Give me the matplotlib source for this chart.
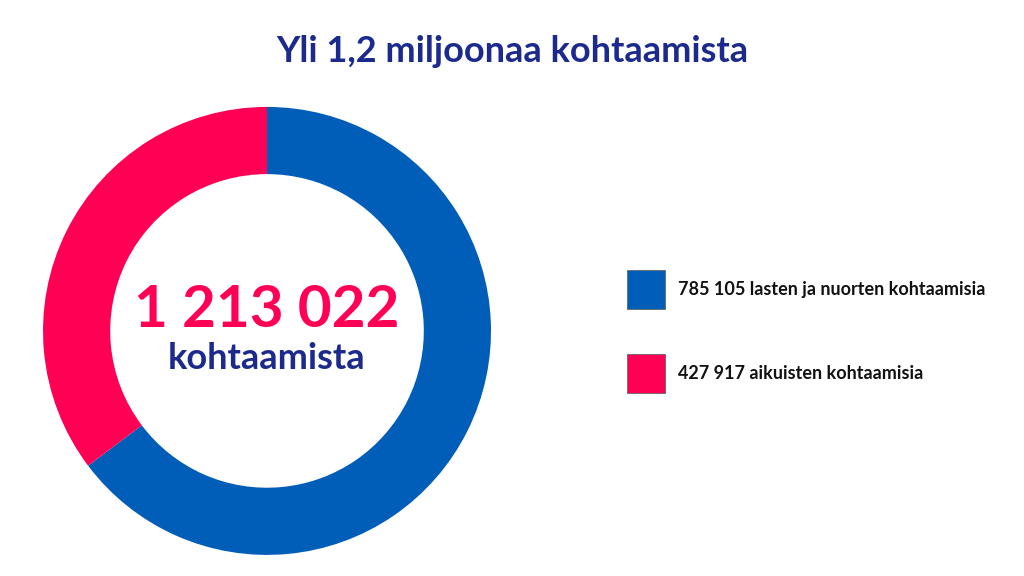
import matplotlib
matplotlib.use("Agg")
import matplotlib.pyplot as plt
from matplotlib.patches import Rectangle

labels = ["785 105 lasten ja nuorten kohtaamisia", "427 917 aikuisten kohtaamisia"]
values = [785105, 427917]
colors = ["#005EB8", "#FF0055"]
total_label = "1 213 022"
title = "Yli 1,2 miljoonaa kohtaamista"
navy = "#1B2A8C"

plt.rcParams['font.family'] = ['Lato', 'DejaVu Sans']
fig = plt.figure(figsize=(10.24, 5.76), dpi=100)
fig.patch.set_facecolor("white")
ax = fig.add_axes([0.042, 0.0365, 0.4375, 0.778])
ax.pie(values, colors=colors, startangle=90, counterclock=False,
       wedgeprops=dict(width=0.30, edgecolor="none"), radius=1)
ax.set_xlim(-1, 1); ax.set_ylim(-1, 1); ax.set_aspect("equal"); ax.axis("off")
ax.text(0, 0.09, total_label, ha="center", va="center", fontsize=42,
        fontweight="bold", color=colors[1])
ax.text(0, -0.125, "kohtaamista", ha="center", va="center", fontsize=26,
        fontweight="bold", color=navy)

fig.text(0.5, 0.91, title, ha="center", va="center", fontsize=26,
         fontweight="bold", color=navy)

ys = [289.5, 373.5]
for lab, c, y in zip(labels, colors, ys):
    fig.patches.append(Rectangle((627/1024, 1-(y+19.5)/576), 38/1024, 39/576,
                                 transform=fig.transFigure, facecolor=c,
                                 edgecolor="#666666", linewidth=0.6))
    fig.text(678/1024, 1-y/576, lab, ha="left", va="center", fontsize=13,
             fontweight="bold", color="#111111")

fig.savefig("out.png", dpi=100)
